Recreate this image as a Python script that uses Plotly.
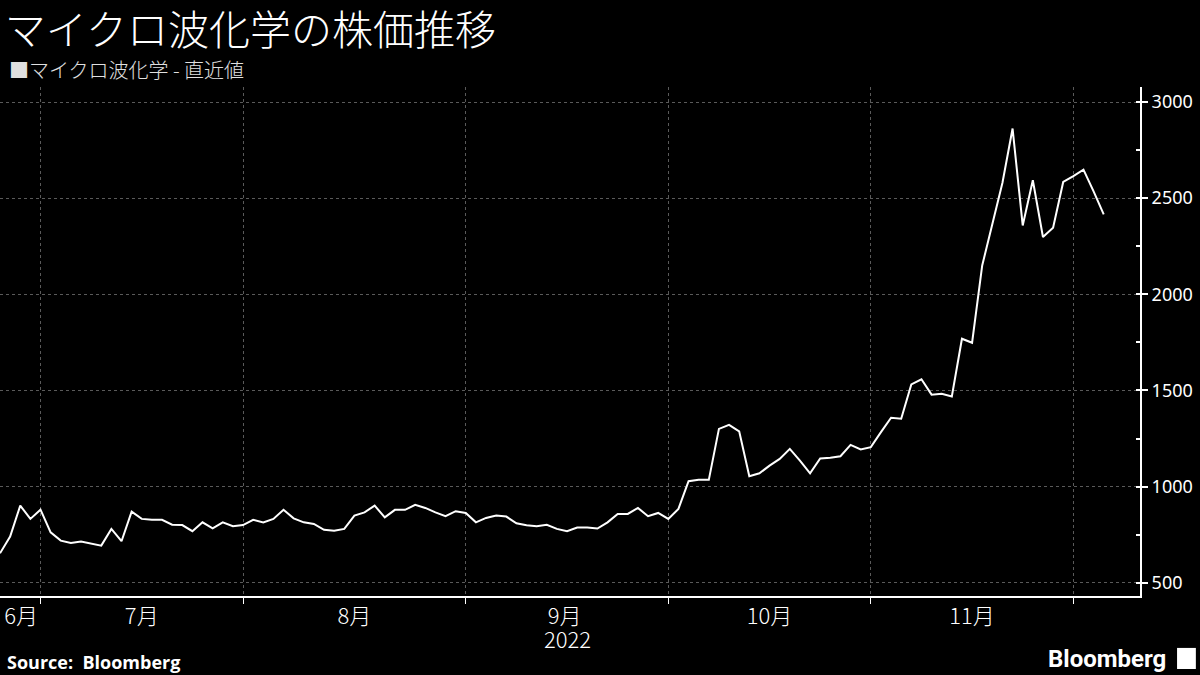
import plotly.graph_objects as go

# Trading days (TSE) and closing prices
dates = [
    "2022-06-27", "2022-06-28", "2022-06-29", "2022-06-30",
    "2022-07-01", "2022-07-04", "2022-07-05", "2022-07-06", "2022-07-07", "2022-07-08",
    "2022-07-11", "2022-07-12", "2022-07-13", "2022-07-14", "2022-07-15",
    "2022-07-19", "2022-07-20", "2022-07-21", "2022-07-22",
    "2022-07-25", "2022-07-26", "2022-07-27", "2022-07-28", "2022-07-29",
    "2022-08-01", "2022-08-02", "2022-08-03", "2022-08-04", "2022-08-05",
    "2022-08-08", "2022-08-09", "2022-08-10", "2022-08-12",
    "2022-08-15", "2022-08-16", "2022-08-17", "2022-08-18", "2022-08-19",
    "2022-08-22", "2022-08-23", "2022-08-24", "2022-08-25", "2022-08-26",
    "2022-08-29", "2022-08-30", "2022-08-31",
    "2022-09-01", "2022-09-02", "2022-09-05", "2022-09-06", "2022-09-07", "2022-09-08", "2022-09-09",
    "2022-09-12", "2022-09-13", "2022-09-14", "2022-09-15", "2022-09-16",
    "2022-09-20", "2022-09-21", "2022-09-22",
    "2022-09-26", "2022-09-27", "2022-09-28", "2022-09-29", "2022-09-30",
    "2022-10-03", "2022-10-04", "2022-10-05", "2022-10-06", "2022-10-07",
    "2022-10-11", "2022-10-12", "2022-10-13", "2022-10-14",
    "2022-10-17", "2022-10-18", "2022-10-19", "2022-10-20", "2022-10-21",
    "2022-10-24", "2022-10-25", "2022-10-26", "2022-10-27", "2022-10-28",
    "2022-10-31", "2022-11-01", "2022-11-02", "2022-11-04",
    "2022-11-07", "2022-11-08", "2022-11-09", "2022-11-10", "2022-11-11",
    "2022-11-14", "2022-11-15", "2022-11-16", "2022-11-17", "2022-11-18",
    "2022-11-21", "2022-11-22", "2022-11-24", "2022-11-25",
    "2022-11-28", "2022-11-29", "2022-11-30", "2022-12-01", "2022-12-02",
    "2022-12-05", "2022-12-06",
]

prices = [
    653, 740, 901, 832,
    880, 762, 719, 707, 714, 702,
    693, 780, 716, 870, 832,
    827, 827, 802, 800,
    768, 814, 783, 814, 794,
    800, 827, 814, 832, 879,
    835, 814, 806, 775,
    770, 780, 849, 866, 901,
    840, 879, 879, 905, 889,
    866, 846, 872,
    863, 814, 837, 849, 844, 809, 799,
    794, 801, 780, 768, 787,
    787, 782, 814,
    858, 858, 889, 846, 863,
    832, 884, 1028, 1035, 1035,
    1300, 1321, 1287, 1054,
    1069, 1109, 1144, 1196, 1135,
    1069, 1146, 1150, 1158, 1217,
    1193, 1205, 1283, 1358,
    1353, 1531, 1558, 1478, 1483,
    1469, 1769, 1748, 2150, 2360,
    2580, 2862, 2358, 2593,
    2298, 2346, 2584, 2615, 2648,
    2535, 2416,
]

# Japanese market holidays inside the range (x axis skips them)
holidays = ["2022-07-18", "2022-08-11", "2022-09-19", "2022-09-23",
            "2022-10-10", "2022-11-03", "2022-11-23"]

# month boundaries (gridlines) and month label positions
month_starts = ["2022-07-01", "2022-08-01", "2022-09-01", "2022-10-03",
                "2022-11-01", "2022-12-01"]
label_pos = ["2022-06-29 02:00", "2022-07-15", "2022-08-17",
             "2022-09-14 18:00", "2022-10-18", "2022-11-16"]
month_labels = ["6月", "7月", "8月", "9月", "10月", "11月"]
year_label = "2022"

y_ticks = [500, 1000, 1500, 2000, 2500, 3000]

title = "マイクロ波化学の株価推移"
series_name = "マイクロ波化学 - 直近値"

font_jp = "Noto Sans CJK JP"
grid_col = "#5a5a5a"

fig = go.Figure()
fig.add_trace(go.Scatter(x=dates, y=prices, mode="lines", name=series_name,
                         line=dict(color="white", width=2), showlegend=False))

fig.update_layout(
    width=1200, height=675,
    paper_bgcolor="black", plot_bgcolor="black",
    margin=dict(l=0, r=60, t=87, b=79),
    font=dict(family=font_jp, color="white", size=17),
    title=dict(text=title, x=0.004, xanchor="left", y=0.955, yanchor="middle",
               yref="container",
               font=dict(size=41, color="white", family=font_jp, weight=300)),
)

fig.update_xaxes(
    type="date",
    range=["2022-06-27", "2022-12-09 14:00"],
    rangebreaks=[dict(bounds=["sat", "mon"]), dict(values=holidays)],
    tickmode="array", tickvals=label_pos, ticktext=month_labels,
    ticks="", showgrid=False,
    showline=True, linecolor="white", linewidth=2,
    tickfont=dict(size=22, color="white", family=font_jp, weight=300),
    minor=dict(tickmode="array", tickvals=month_starts, ticks="outside",
               ticklen=6, tickcolor="white", tickwidth=1,
               showgrid=True, gridcolor=grid_col, griddash="dot", gridwidth=1),
    zeroline=False,
)

fig.update_yaxes(
    side="right", range=[431, 3078],
    tickmode="array", tickvals=y_ticks,
    showgrid=True, gridcolor=grid_col, griddash="dot", gridwidth=1,
    showline=True, linecolor="white", linewidth=2,
    ticks="outside", ticklen=6, tickwidth=2, tickcolor="white",
    tickfont=dict(size=18, color="white", family="Noto Sans"),
    minor=dict(dtick=250, tick0=0, ticks="inside", ticklen=4, tickcolor="white", showgrid=False),
    zeroline=False,
)

fig.add_annotation(text=year_label, xref="x", yref="paper",
                   x="2022-09-15", y=-0.082, xanchor="center", yanchor="middle",
                   showarrow=False, font=dict(size=22, color="white", family=font_jp, weight=300))
fig.add_annotation(text="■" + series_name, xref="paper", yref="paper",
                   x=0.006, y=1.034, xanchor="left", yanchor="middle", showarrow=False,
                   font=dict(size=20, color="#e0e0e0", family=font_jp, weight=300))
fig.add_annotation(text="<b>Source:  Bloomberg</b>", xref="paper", yref="paper",
                   x=0.004, y=-0.13, xanchor="left", yanchor="middle", showarrow=False,
                   font=dict(size=18, color="white", family="Open Sans"))
fig.add_annotation(text="<b>Bloomberg</b>", xref="paper", yref="paper",
                   x=1.0246, y=-0.124, xanchor="right", yanchor="middle", showarrow=False,
                   font=dict(size=24, color="white", family="Roboto", weight=500))
fig.add_shape(type="rect", xref="paper", yref="paper",
              x0=1.0325, x1=1.049, y0=-0.1434, y1=-0.102,
              fillcolor="white", line=dict(width=0))

fig.write_html("out.html", config={"displayModeBar": False},
               post_script="document.body.style.margin='0';")
